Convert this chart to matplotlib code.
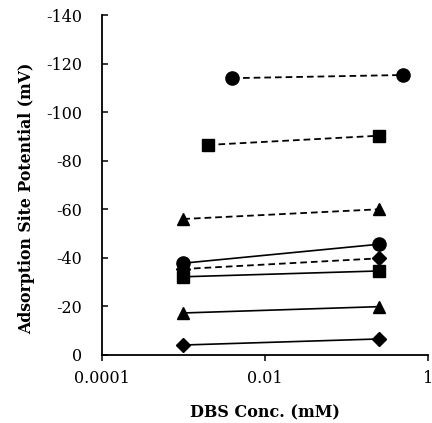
# Adsorption site potential vs DBS concentration
import matplotlib.pyplot as plt
from matplotlib.ticker import FixedLocator, FuncFormatter

# dashed series (x in mM, potential in mV)
dash_circle_x = [0.004, 0.5]
dash_circle_y = [-114, -115.3]
dash_square_x = [0.002, 0.25]
dash_square_y = [-86.5, -90.3]
dash_tri_x = [0.001, 0.25]
dash_tri_y = [-56, -60]
dash_diam_x = [0.001, 0.25]
dash_diam_y = [-35.4, -39.8]

# solid series
solid_x = [0.001, 0.25]
solid_circle_y = [-37.8, -45.6]
solid_square_y = [-32.2, -34.6]
solid_tri_y = [-17.3, -19.9]
solid_diam_y = [-4.1, -6.6]

y_ticks = [0, -20, -40, -60, -80, -100, -120, -140]
x_ticks = [0.0001, 0.01, 1]
x_labels = ["0.0001", "0.01", "1"]

plt.rcParams['font.family'] = ['DejaVu Serif']
fig = plt.figure(figsize=(4.32, 4.23), dpi=100)
ax = fig.add_axes([0.2354, 0.1608, 0.7553, 0.8037])

ms = {'o': 9.5, 's': 8, '^': 9, 'D': 7}
dash_style = dict(color='black', lw=1.3, ls=(0, (3.7, 2.2)))
solid_style = dict(color='black', lw=1.2, ls='-')

ax.plot(dash_circle_x, dash_circle_y, marker='o', ms=ms['o'], **dash_style)
ax.plot(dash_square_x, dash_square_y, marker='s', ms=ms['s'], **dash_style)
ax.plot(dash_tri_x, dash_tri_y, marker='^', ms=ms['^'], **dash_style)
ax.plot(dash_diam_x, dash_diam_y, marker='D', ms=ms['D'], **dash_style)

ax.plot(solid_x, solid_circle_y, marker='o', ms=ms['o'], **solid_style)
ax.plot(solid_x, solid_square_y, marker='s', ms=ms['s'], **solid_style)
ax.plot(solid_x, solid_tri_y, marker='^', ms=ms['^'], **solid_style)
ax.plot(solid_x, solid_diam_y, marker='D', ms=ms['D'], **solid_style)

ax.set_xscale('log')
ax.set_xlim(0.0001, 1)
ax.set_ylim(0, -140)
ax.xaxis.set_major_locator(FixedLocator(x_ticks))
ax.xaxis.set_minor_locator(FixedLocator([]))
ax.set_xticks(x_ticks, x_labels)
ax.set_yticks(y_ticks)
ax.yaxis.set_major_formatter(FuncFormatter(lambda v, p: "0" if v == 0 else "-%d" % abs(v)))

for s in ['top', 'right']:
    ax.spines[s].set_visible(False)
for s in ['left', 'bottom']:
    ax.spines[s].set_linewidth(1.3)

ax.tick_params(axis='y', direction='in', length=4, width=1.1, labelsize=11.5, pad=14)
ax.tick_params(axis='x', direction='out', length=4, width=1.1, labelsize=11.5, pad=7)

ax.set_xlabel("DBS Conc. (mM)", fontsize=11.5, fontweight='bold', labelpad=12)
ax.set_ylabel("Adsorption Site Potential (mV)", fontsize=11.3, fontweight='bold', labelpad=8)
ax.yaxis.label.set_y(0.46)

fig.savefig("out.png", dpi=100)
